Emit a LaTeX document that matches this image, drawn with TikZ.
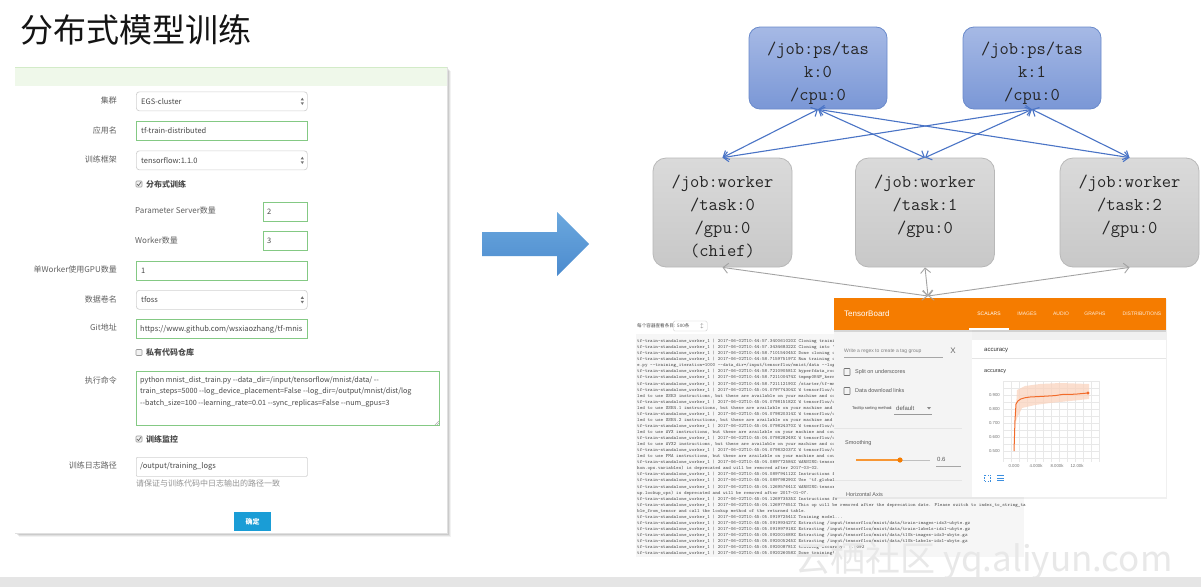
\documentclass[tikz,border=0pt]{standalone}
\usepackage{fontspec}
\setmainfont{Liberation Sans}
\newfontfamily\cjk{Noto Sans CJK SC}
\usetikzlibrary{arrows.meta,calc}
\definecolor{psTop}{HTML}{A6B9E5}
\definecolor{psBot}{HTML}{7A97D6}
\definecolor{psLine}{HTML}{6A8ACB}
\definecolor{wTop}{HTML}{DADADA}
\definecolor{wBot}{HTML}{C8C8C8}
\definecolor{wLine}{HTML}{B8B8B8}
\definecolor{blueArr}{HTML}{4A74C6}
\definecolor{grayArr}{HTML}{A3A3A3}
\definecolor{bigTop}{HTML}{6BA8DE}
\definecolor{bigBot}{HTML}{4C8BCE}
\definecolor{boxgreen}{HTML}{84C984}
\definecolor{headgreen}{HTML}{EFF8EA}
\definecolor{headline}{HTML}{D3EBC8}
\definecolor{btnblue}{HTML}{1A9DD6}
\definecolor{tbor}{HTML}{F57C00}
\definecolor{tbline}{HTML}{F26B2A}
\definecolor{tbband}{HTML}{FAD3BE}
\definecolor{tbgray}{HTML}{F4F4F4}
\definecolor{logbg}{HTML}{F6F6F6}
\definecolor{tbblue}{HTML}{3C8FE0}
\newcommand{\wk}{tf-train-standalone\_worker\_1 | 2017-06-02T10:}
\begin{document}
\begin{tikzpicture}[x=1pt,y=-1pt,
  lbl/.style={anchor=east, font=\cjk\fontsize{8}{9}\selectfont, text=black!62, inner sep=0},
  ftxt/.style={anchor=west, font=\cjk\fontsize{8}{9}\selectfont, text=black!62, inner sep=0},
  fbold/.style={anchor=west, font=\cjk\bfseries\fontsize{8}{9}\selectfont, text=black!70, inner sep=0},
  boxtxt/.style={anchor=west, font=\cjk\fontsize{7.5}{9}\selectfont, text=black!72, inner sep=0},
  gbox/.style={draw=boxgreen, line width=0.9, fill=white, anchor=north west, minimum height=19, inner sep=0},
  sbox/.style={draw=black!18, line width=0.7, rounded corners=3, fill=white, anchor=north west, minimum height=19, inner sep=0},
  chk/.style={draw=black!40, line width=0.6, fill=black!5, minimum width=6, minimum height=6, inner sep=0, rounded corners=0.8},
  psbox/.style={draw=psLine, line width=0.8, rounded corners=11, top color=psTop, bottom color=psBot, minimum width=138, minimum height=82, inner sep=0},
  wbox/.style={draw=wLine, line width=0.8, rounded corners=13, top color=wTop, bottom color=wBot, minimum width=139, minimum height=109, inner sep=0},
  nodetxt/.style={anchor=north, align=center, font=\ttfamily\fontsize{18}{23}\selectfont, text=black!85, inner sep=0},
  barrow/.style={<->, >={Straight Barb[length=5pt,width=10pt]}, draw=blueArr, line width=1.1},
  garrow/.style={<->, >={Straight Barb[length=5pt,width=10pt]}, draw=grayArr, line width=0.9},
  logtxt/.style={anchor=north west, align=left, font=\ttfamily\fontsize{4.9}{6.06}\selectfont, text=black!70, inner sep=0},
  tbtxt/.style={anchor=west, font=\fontsize{5.5}{6}\selectfont, text=black!65, inner sep=0},
  tbtab/.style={font=\fontsize{5}{6}\selectfont, text=white!85!tbor, inner sep=0},
  axl/.style={font=\fontsize{4.3}{5}\selectfont, text=black!55, inner sep=0},
  wmark/.style={anchor=west, font=\cjk\fontsize{35}{38}\selectfont, inner sep=0}
]
\useasboundingbox (0,0) rectangle (1201,587);
\fill[white] (0,0) rectangle (1201,587);

% ---------- title ----------
\node[anchor=west, font=\cjk\fontsize{33}{36}\selectfont, text=black!92, inner sep=0] (title) at (20,30) {分布式模型训练};

% ---------- form panel ----------
\foreach \o/\a in {4/0.05,3/0.07,2/0.09,1/0.12}{
  \fill[black, opacity=\a] (15+\o,67+\o) rectangle (447+\o,533+\o);
}
\fill[white] (15,67) rectangle (447,533);
\fill[headgreen] (15,67) rectangle (447,86);
\draw[headline, line width=0.8] (15,67.4) -- (447,67.4);
\draw[black!12, line width=0.6] (447,67) -- (447,533) -- (15,533);

% row: cluster
\node[lbl] (l1) at (117,100) {集群};
\node[sbox, minimum width=171] (s1) at (136,91.5) {};
\node[boxtxt] (s1t) at ($(s1.west)+(5,0)$) {EGS-cluster};
\fill[black!55] ($(s1.east)+(-7,-1)$) -- ++(1.6,-2.6) -- ++(1.6,2.6) -- cycle;
\fill[black!55] ($(s1.east)+(-7,1)$) -- ++(1.6,2.6) -- ++(1.6,-2.6) -- cycle;
% row: app name
\node[lbl] (l2) at (117,130) {应用名};
\node[gbox, minimum width=171] (g2) at (136,121) {};
\node[boxtxt] (g2t) at ($(g2.west)+(5,0)$) {tf-train-distributed};
% row: framework
\node[lbl] (l3) at (117,159.5) {训练框架};
\node[sbox, minimum width=171] (s3) at (136,150.5) {};
\node[boxtxt] (s3t) at ($(s3.west)+(5,0)$) {tensorflow:1.1.0};
\fill[black!55] ($(s3.east)+(-7,-1)$) -- ++(1.6,-2.6) -- ++(1.6,2.6) -- cycle;
\fill[black!55] ($(s3.east)+(-7,1)$) -- ++(1.6,2.6) -- ++(1.6,-2.6) -- cycle;
% checkbox distributed
\node[chk] (c1) at (139,184) {};
\draw[black!60, line width=0.7] ($(c1.center)+(-2,0)$) -- ++(1.5,1.6) -- ++(2.6,-3.6);
\node[fbold] (c1t) at (146,184) {分布式训练};
% PS count
\node[ftxt] (l4) at (135,210) {Parameter Server数量};
\node[gbox, minimum width=44] (g4) at (263,201.5) {};
\node[boxtxt] (g4t) at ($(g4.west)+(4,0)$) {2};
% worker count
\node[ftxt] (l5) at (135,240) {Worker数量};
\node[gbox, minimum width=44] (g5) at (263,231) {};
\node[boxtxt] (g5t) at ($(g5.west)+(4,0)$) {3};
% GPU per worker
\node[lbl] (l6) at (117,269) {单Worker使用GPU数量};
\node[gbox, minimum width=171] (g6) at (136,260.5) {};
\node[boxtxt] (g6t) at ($(g6.west)+(5,0)$) {1};
% volume
\node[lbl] (l7) at (117,299) {数据卷名};
\node[sbox, minimum width=171] (s7) at (136,290) {};
\node[boxtxt] (s7t) at ($(s7.west)+(5,0)$) {tfoss};
\fill[black!55] ($(s7.east)+(-7,-1)$) -- ++(1.6,-2.6) -- ++(1.6,2.6) -- cycle;
\fill[black!55] ($(s7.east)+(-7,1)$) -- ++(1.6,2.6) -- ++(1.6,-2.6) -- cycle;
% git
\node[lbl] (l8) at (117,327) {Git地址};
\node[gbox, minimum width=171] (g8) at (136,319) {};
\node[boxtxt] (g8t) at ($(g8.west)+(4,0)$) {https://www.github.com/wsxiaozhang/tf-mnis};
% private repo
\node[chk] (c2) at (139,352.5) {};
\node[fbold] (c2t) at (146,352.5) {私有代码仓库};
% command
\node[lbl] (l9) at (117,380) {执行命令};
\node[gbox, minimum width=303, minimum height=54] (g9) at (136,371) {};
\node[anchor=north west, align=left, font=\cjk\fontsize{7.2}{11.6}\selectfont, text=black!72, inner sep=0] (g9t) at (140,376) {python mnist\_dist\_train.py -{}-data\_dir=/input/tensorflow/mnist/data/ -{}-\\train\_steps=5000 -{}-log\_device\_placement=False -{}-log\_dir=/output/mnist/dist/log\\-{}-batch\_size=100 -{}-learning\_rate=0.01 -{}-sync\_replicas=False -{}-num\_gpus=3};
\draw[black!40, line width=0.4] ($(g9.south east)+(-5,-1)$) -- ++(4,-4) ($(g9.south east)+(-3,-1)$) -- ++(2,-2);
% monitor
\node[chk] (c3) at (139,439) {};
\draw[black!60, line width=0.7] ($(c3.center)+(-2,0)$) -- ++(1.5,1.6) -- ++(2.6,-3.6);
\node[fbold] (c3t) at (146,439) {训练监控};
% log path
\node[lbl] (l10) at (117,465.5) {训练日志路径};
\node[sbox, rounded corners=1, minimum width=171] (s10) at (136,457) {};
\node[boxtxt] (s10t) at ($(s10.west)+(4,0)$) {/output/training\_logs};
\node[ftxt, text=black!42] (hint) at (136,483.5) {请保证与训练代码中日志输出的路径一致};
% button
\node[fill=btnblue, minimum width=37, minimum height=19, inner sep=0, font=\cjk\bfseries\fontsize{7}{8}\selectfont, text=white] (ok) at (252.5,521.5) {确定};

% ---------- big arrow ----------
\shade[top color=bigTop, bottom color=bigBot] (482,232) -- (557,232) -- (557,212) -- (589,244) -- (557,276) -- (557,256) -- (482,256) -- cycle;

% ---------- log ----------
\fill[logbg] (636,334) rectangle (1024,557);
\node[anchor=west, font=\cjk\fontsize{4.6}{5}\selectfont, text=black!70, inner sep=0] (loghead) at (637,326) {每个容器查看条目:};
\node[draw=black!20, line width=0.4, rounded corners=1.5, minimum width=34, minimum height=10, inner sep=0, anchor=west] (logsel) at (673,326) {};
\node[anchor=west, font=\cjk\fontsize{4.6}{5}\selectfont, text=black!70, inner sep=0] (logselt) at (677,326) {500条};
\node[font=\fontsize{4.5}{5}\selectfont, text=black!55, inner sep=0] (logsela) at (702,326) {$\updownarrow$};
\node[logtxt] (log) at (637,339) {%
\wk44:57.340061020Z Cloning trainin\\
\wk44:57.343468322Z Cloning into '\\
\wk44:58.710154045Z Done cloning c\\
\wk44:58.715975197Z Run training c\\
e.py -{}-training\_iteration=1000 -{}-data\_dir=/input/tensorflow/mnist/data -{}-log\_\\
\wk44:58.721090581Z hyperfdata\_root\\
\wk44:58.721100474Z tmpmp0K4P\_kerne\\
\wk44:58.721112190Z /starter/tf-mni\\
\wk45:04.079774304Z W tensorflow/c\\
led to use SSE3 instructions, but these are available on your machine and cou\\
\wk45:04.079815182Z W tensorflow/c\\
led to use SSE4.1 instructions, but these are available on your machine and c\\
\wk45:04.079820314Z W tensorflow/c\\
led to use SSE4.2 instructions, but these are available on your machine and c\\
\wk45:04.079824370Z W tensorflow/c\\
led to use AVX instructions, but these are available on your machine and coul\\
\wk45:04.079828249Z W tensorflow/c\\
led to use AVX2 instructions, but these are available on your machine and cou\\
\wk45:04.079832037Z W tensorflow/c\\
led to use FMA instructions, but these are available on your machine and coul\\
\wk45:04.089772584Z WARNING:tensorf\\
hon.ops.variables) is deprecated and will be removed after 2017-03-02.\\
\wk45:04.089794112Z Instructions f\\
\wk45:04.089798290Z Use 'tf.global\_\\
\wk45:04.126957641Z WARNING:tensorf\\
up.lookup\_ops) is deprecated and will be removed after 2017-01-07.\\
\wk45:04.126973535Z Instructions fo\\
\wk45:04.126977651Z This op will be removed after the deprecation date. Please switch to index\_to\_string\_ta\\
ble\_from\_tensor and call the lookup method of the returned table.\\
\wk45:05.091972541Z Training model...\\
\wk45:05.091993427Z Extracting /input/tensorflow/mnist/data/train-images-idx3-ubyte.gz\\
\wk45:05.091997918Z Extracting /input/tensorflow/mnist/data/train-labels-idx1-ubyte.gz\\
\wk45:05.092001689Z Extracting /input/tensorflow/mnist/data/t10k-images-idx3-ubyte.gz\\
\wk45:05.092005245Z Extracting /input/tensorflow/mnist/data/t10k-labels-idx1-ubyte.gz\\
\wk45:05.092008781Z training accuracy: 0.9092\\
\wk45:05.092026058Z Done training!.};

% ---------- TensorBoard ----------
\fill[black, opacity=0.06] (835,299) rectangle (1167,499);
\fill[white] (834,298) rectangle (1166,497);
\fill[tbgray] (834,330) rectangle (972,497);
\fill[black!6] (972,330) rectangle (1166,340);
\fill[black, opacity=0.12] (834,330) rectangle (1166,332);
\node[fill=tbor, minimum width=332, minimum height=32, inner sep=0, anchor=north west] (tbbar) at (834,298) {};
\node[anchor=west, font=\fontsize{8}{9}\selectfont, text=white, inner sep=0] (tbname) at (844,314) {TensorBoard};
\node[tbtab, text=white] (tab1) at (989,314) {SCALARS};
\node[tbtab] (tab2) at (1027,314) {IMAGES};
\node[tbtab] (tab3) at (1061,314) {AUDIO};
\node[tbtab] (tab4) at (1095,314) {GRAPHS};
\node[tbtab] (tab5) at (1142,314) {DISTRIBUTIONS};
\draw[white, line width=1.4] (969,329) -- (1009,329);
% left panel
\node[tbtxt, text=black!50, font=\fontsize{5}{6}\selectfont] (regex) at (844,351) {Write a regex to create a tag group};
\draw[black!35, line width=0.5] (844,357) -- (943,357);
\node[font=\fontsize{8}{9}\selectfont, text=black!60, inner sep=0] (xclose) at (953,351) {X};
\node[draw=black!55, line width=0.6, minimum width=6, minimum height=7, inner sep=0, rounded corners=0.5] (cb1) at (847,372) {};
\node[tbtxt] (cb1t) at (855,372) {Split on underscores};
\node[draw=black!55, line width=0.6, minimum width=6, minimum height=7, inner sep=0, rounded corners=0.5] (cb2) at (847,391) {};
\node[tbtxt] (cb2t) at (855,391) {Data download links};
\node[tbtxt, text=black!75, font=\fontsize{4}{5}\selectfont] (ttip) at (852,408) {Tooltip sorting method:};
\node[tbtxt, font=\fontsize{6}{7}\selectfont] (ttipv) at (896,408) {default};
\draw[black!40, line width=0.5] (894,414) -- (932,414);
\fill[black!45] (927,407) -- (931,407) -- (929,409.5) -- cycle;
\draw[black!10, line width=0.6] (834,428) -- (962,428);
\node[tbtxt] (smooth) at (845,443) {Smoothing};
\draw[tbor!80, line width=1.2] (856,460) -- (900,460);
\draw[black!25, line width=1] (900,460) -- (930,460);
\fill[tbor] (900,460) circle (2.6);
\node[tbtxt, font=\fontsize{6}{7}\selectfont] (sval) at (937,459) {0.6};
\draw[black!35, line width=0.5] (936,466) -- (961,466);
\draw[black!10, line width=0.6] (834,480) -- (962,480);
\node[tbtxt] (hax) at (846,495) {Horizontal Axis};
% right card
\fill[white] (972,340) rectangle (1166,358);
\draw[black!10, line width=0.6] (972,358.3) -- (1166,358.3);
\node[tbtxt, text=black!80, font=\fontsize{6}{7}\selectfont] (acch) at (984,350) {accuracy};
\node[tbtxt, text=black!80] (acct) at (984,372) {accuracy};
\foreach \i in {0,...,12} { \draw[black!9, line width=0.4] (1003+8*\i,381) -- (1003+8*\i,462); }
\foreach \i in {0,...,11} { \draw[black!9, line width=0.4] (1003,381+7*\i) -- (1100,381+7*\i); }
\node[axl, anchor=east] (y1) at (1000,395) {0.900};
\node[axl, anchor=east] (y2) at (1000,409) {0.800};
\node[axl, anchor=east] (y3) at (1000,423) {0.700};
\node[axl, anchor=east] (y4) at (1000,437) {0.600};
\node[axl, anchor=east] (y5) at (1000,451) {0.500};
\node[axl] (x1) at (1014,466) {0.000};
\node[axl] (x2) at (1036,466) {4.000k};
\node[axl] (x3) at (1057,466) {8.000k};
\node[axl] (x4) at (1077,466) {12.00k};
\fill[tbband, opacity=0.75] (1015,425) -- (1017,390) -- (1025,386) -- (1040,384) -- (1060,383) -- (1089,384) -- (1089,399) -- (1070,401) -- (1050,403) -- (1035,405) -- (1022,408) -- (1017,418) -- cycle;
\draw[tbline, line width=1] (1014,451) -- (1015,420) -- (1016,404) .. controls (1018,399) and (1022,398) .. (1030,397) -- (1045,396.2) -- (1055,395.6) -- (1062,394.5) -- (1075,394.2) -- (1088,393);
\fill[tbline] (1088,393) circle (1.6);
\draw[tbblue, line width=0.7, dash pattern=on 1.2pt off 1.2pt] (984,475) rectangle (990,481);
\foreach \k in {0,1,2} { \draw[tbblue, line width=1] (997,475.5+2.5*\k) -- (1004,475.5+2.5*\k); }

% ---------- graph ----------
\node[psbox] (ps0) at (818,68) {};
\node[psbox] (ps1) at (1032,68) {};
\node[wbox] (w0) at (722.5,212.5) {};
\node[wbox] (w1) at (925,212.5) {};
\node[wbox] (w2) at (1129.5,212.5) {};
\node[nodetxt] (ps0t) at (818,42) {/job:ps/tas\\k:0\\/cpu:0};
\node[nodetxt] (ps1t) at (1032,42) {/job:ps/tas\\k:1\\/cpu:0};
\node[nodetxt] (w0t) at (722.5,175) {/job:worker\\/task:0\\/gpu:0\\(chief)};
\node[nodetxt] (w1t) at (925,175) {/job:worker\\/task:1\\/gpu:0};
\node[nodetxt] (w2t) at (1129.5,175) {/job:worker\\/task:2\\/gpu:0};
\foreach \p in {ps0,ps1}{
  \foreach \w in {w0,w1,w2}{
    \draw[barrow] (\p.south) -- (\w.north);
  }
}
\coordinate (hub) at (928,296);
\draw[garrow] (hub) -- (w0.south);
\draw[garrow] (hub) -- (w1.south);
\draw[garrow] (hub) -- (w2.south);

% ---------- watermark ----------
\node[wmark, text=black!9] (wm) at (795,561) {云栖社区 yq.aliyun.com};

% ---------- bottom bar ----------
\fill[black!10] (0,577) rectangle (1201,587);
\end{tikzpicture}
\end{document}
